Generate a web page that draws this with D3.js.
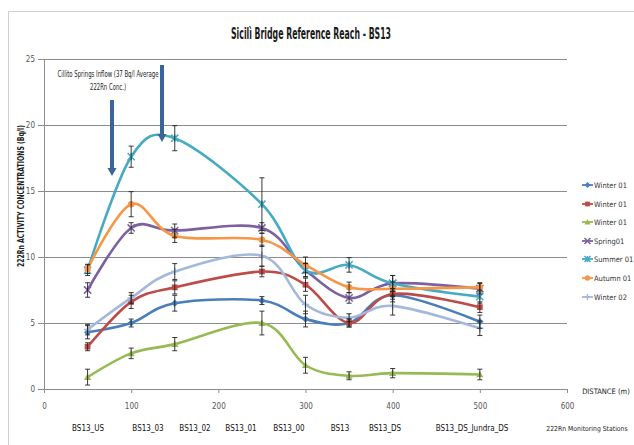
<!DOCTYPE html>
<html><head><meta charset="utf-8">
<script src="https://cdn.jsdelivr.net/npm/d3@7"></script>
<style>
html,body{margin:0;padding:0;background:#fff;}
svg{display:block;}
text{font-family:'Liberation Sans Narrow','DejaVu Sans Condensed','Arial Narrow',sans-serif;}
</style></head>
<body><svg id="chart" width="634" height="445"></svg>
<script>
const distances = [50, 100, 150, 250, 300, 350, 400, 500];
const stations = ["BS13_US", "BS13_03", "BS13_02", "BS13_01", "BS13_00", "BS13", "BS13_DS", "BS13_DS_Jundra_DS"];
const stationPos = [88, 148, 195, 241, 289, 340, 385, 472];
const xTicks = [0, 100, 200, 300, 400, 500, 600];
const yTicks = [0, 5, 10, 15, 20, 25];
const seriesNames = ["Winter 01", "Winter 01", "Winter 01", "Spring01", "Summer 01", "Autumn 01", "Winter 02"];
const seriesColors = ["#4a7ebb", "#be4b48", "#98b954", "#7d60a0", "#46aac5", "#f79646", "#a3b8da"];
const seriesMarkers = ["diamond", "square", "triangle", "x", "star", "circle", "plus"];
const winter01a = [4.3, 5.0, 6.5, 6.7, 5.3, 5.0, 7.1, 5.1];
const winter01b = [3.2, 6.6, 7.7, 8.9, 7.9, 5.0, 7.2, 6.2];
const winter01c = [0.9, 2.7, 3.4, 5.0, 1.8, 1.0, 1.2, 1.1];
const spring01 = [7.5, 12.2, 12.0, 12.2, 9.0, 6.9, 8.0, 7.6];
const summer01 = [9.0, 17.6, 19.0, 14.0, 9.0, 9.4, 8.0, 7.0];
const autumn01 = [9.1, 14.0, 11.6, 11.3, 9.4, 7.7, 7.6, 7.7];
const winter02 = [4.5, 6.9, 8.9, 10.1, 6.4, 5.4, 6.3, 4.6];
const errWinter01a = [0.5, 0.3, 0.6, 0.3, 0.6, 0.3, 0.5, 0.5];
const errWinter01b = [0.3, 0.5, 0.5, 0.4, 0.5, 0.3, 0.4, 0.4];
const errWinter01c = [0.6, 0.4, 0.5, 0.9, 0.6, 0.3, 0.35, 0.4];
const errSpring01 = [0.55, 0.4, 0.5, 0.4, 0.5, 0.4, 0.6, 0.4];
const errSummer01 = [0.4, 0.8, 0.95, 2.0, 0.5, 0.55, 0.6, 0.5];
const errAutumn01 = [0.35, 0.95, 0.5, 0.5, 0.6, 0.4, 0.5, 0.35];
const errWinter02 = [0.4, 0.4, 0.6, 0.8, 0.7, 0.3, 0.7, 0.55];

const values = [winter01a, winter01b, winter01c, spring01, summer01, autumn01, winter02];
const errors = [errWinter01a, errWinter01b, errWinter01c, errSpring01, errSummer01, errAutumn01, errWinter02];

const svg = d3.select("#chart");
const x = d3.scaleLinear().domain([0, 600]).range([44, 567]);
const y = d3.scaleLinear().domain([0, 25]).range([389, 59]);

// outer chart border
svg.append("rect").attr("x", 8.5).attr("y", 11.5).attr("width", 640).attr("height", 440)
  .attr("fill", "none").attr("stroke", "#cfcfcf").attr("stroke-width", 1);

// title
svg.append("text").attr("x", 311).attr("y", 39).attr("text-anchor", "middle")
  .attr("font-size", 15).attr("fill", "#1a1a1a").attr("font-weight", "bold")
  .attr("textLength", 160).attr("lengthAdjust", "spacingAndGlyphs")
  .text("Sicilì Bridge Reference Reach - BS13");

// gridlines
svg.append("g").selectAll("line").data(yTicks.filter(d => d > 0)).join("line")
  .attr("x1", x(0)).attr("x2", x(600)).attr("y1", d => Math.round(y(d)) + 0.5).attr("y2", d => Math.round(y(d)) + 0.5)
  .attr("stroke", "#8c8c8c").attr("stroke-width", 1);

// y axis
const yAxis = d3.axisLeft(y).tickValues(yTicks).tickSize(6).tickPadding(3);
const gy = svg.append("g").attr("transform", `translate(${x(0)},0)`).call(yAxis);
gy.select(".domain").attr("stroke", "#8c8c8c");
gy.selectAll(".tick line").attr("stroke", "#8c8c8c");
gy.selectAll(".tick text").attr("font-size", 8).attr("fill", "#555");

// x axis
const xAxis = d3.axisBottom(x).tickValues(xTicks).tickSize(4).tickPadding(10);
const gx = svg.append("g").attr("transform", `translate(0,${y(0)})`).call(xAxis);
gx.select(".domain").attr("stroke", "#8c8c8c");
gx.selectAll(".tick line").attr("stroke", "#8c8c8c");
gx.selectAll(".tick text").attr("font-size", 8).attr("fill", "#555");

// x axis title and station labels
svg.append("text").attr("x", 606).attr("y", 394).attr("text-anchor", "middle")
  .attr("font-size", 7.5).attr("fill", "#222")
  .text("DISTANCE (m)");
svg.append("g").selectAll("text").data(stations).join("text")
  .attr("x", (d, i) => stationPos[i]).attr("y", 431).attr("text-anchor", "middle")
  .attr("font-size", 8).attr("fill", "#111")
  .text(d => d);
svg.append("text").attr("x", 587).attr("y", 431).attr("text-anchor", "middle")
  .attr("font-size", 6.8).attr("fill", "#222")
  .text("222Rn Monitoring Stations");

// y axis title
svg.append("text").attr("transform", "translate(24,196) rotate(-90)").attr("text-anchor", "middle")
  .attr("font-size", 8).attr("fill", "#222").attr("font-weight", "bold")
  .attr("textLength", 142).attr("lengthAdjust", "spacingAndGlyphs")
  .text("222Rn ACTIVITY CONCENTRATIONS  (Bq/l)");

// series
const line = d3.line().x((d, i) => x(distances[i])).y(d => y(d)).curve(d3.curveCardinal.tension(0));

function marker(g, type, color, size) {
  const s = size;
  if (type === "diamond") g.append("path").attr("d", `M0,${-s}L${s},0L0,${s}L${-s},0Z`).attr("fill", color);
  else if (type === "square") g.append("rect").attr("x", -s * 0.8).attr("y", -s * 0.8).attr("width", s * 1.6).attr("height", s * 1.6).attr("fill", color);
  else if (type === "triangle") g.append("path").attr("d", `M0,${-s}L${s},${s * 0.8}L${-s},${s * 0.8}Z`).attr("fill", color);
  else if (type === "x") g.append("path").attr("d", `M${-s},${-s}L${s},${s}M${-s},${s}L${s},${-s}`).attr("stroke", color).attr("stroke-width", 1.5);
  else if (type === "star") g.append("path").attr("d", `M${-s},${-s}L${s},${s}M${-s},${s}L${s},${-s}M0,${-s}L0,${s}`).attr("stroke", color).attr("stroke-width", 1.5);
  else if (type === "circle") g.append("circle").attr("r", s * 0.9).attr("fill", color);
  else if (type === "plus") g.append("path").attr("d", `M${-s},0L${s},0M0,${-s}L0,${s}`).attr("stroke", color).attr("stroke-width", 1.5);
}

const plot = svg.append("g");
values.forEach((vals, si) => {
  const g = plot.append("g");
  g.append("path").attr("d", line(vals)).attr("fill", "none")
    .attr("stroke", seriesColors[si]).attr("stroke-width", 2.6).attr("stroke-linecap", "round");
  vals.forEach((v, i) => {
    const m = g.append("g").attr("transform", `translate(${x(distances[i])},${y(v)})`);
    marker(m, seriesMarkers[si], seriesColors[si], 3.6);
  });
});
// error bars
values.forEach((vals, si) => {
  const g = plot.append("g").attr("stroke", "#222").attr("stroke-width", 0.9);
  vals.forEach((v, i) => {
    const cx = x(distances[i]);
    const y1 = y(v + errors[si][i]), y2 = y(v - errors[si][i]);
    g.append("line").attr("x1", cx).attr("x2", cx).attr("y1", y1).attr("y2", y2);
    g.append("line").attr("x1", cx - 2.5).attr("x2", cx + 2.5).attr("y1", y1).attr("y2", y1);
    g.append("line").attr("x1", cx - 2.5).attr("x2", cx + 2.5).attr("y1", y2).attr("y2", y2);
  });
});

// legend
const legY = [185, 204, 222, 241, 259, 278, 297];
const leg = svg.append("g");
seriesNames.forEach((n, i) => {
  const g = leg.append("g").attr("transform", `translate(0,${legY[i]})`);
  g.append("line").attr("x1", 582).attr("x2", 593).attr("y1", 0).attr("y2", 0)
    .attr("stroke", seriesColors[i]).attr("stroke-width", 1.8);
  const m = g.append("g").attr("transform", "translate(587.5,0)");
  marker(m, seriesMarkers[i], seriesColors[i], 3);
  g.append("text").attr("x", 594).attr("y", 3).attr("font-size", 7.5).attr("fill", "#333").text(n);
});

// annotation
svg.append("text").attr("x", 108).attr("y", 77).attr("text-anchor", "middle")
  .attr("font-size", 8).attr("fill", "#222")
  .attr("textLength", 101).attr("lengthAdjust", "spacingAndGlyphs")
  .text("Cillito Springs Inflow (37 Bq/l Average");
svg.append("text").attr("x", 108).attr("y", 90).attr("text-anchor", "middle")
  .attr("font-size", 8).attr("fill", "#222")
  .attr("textLength", 36).attr("lengthAdjust", "spacingAndGlyphs")
  .text("222Rn Conc.)");

function arrow(xp, yTop, yTip) {
  svg.append("line").attr("x1", xp).attr("x2", xp).attr("y1", yTop).attr("y2", yTip - 7)
    .attr("stroke", "#3b659a").attr("stroke-width", 4);
  svg.append("path").attr("d", `M${xp - 4.5},${yTip - 8}L${xp + 4.5},${yTip - 8}L${xp},${yTip}Z`).attr("fill", "#3b659a");
}
arrow(112, 100, 176);
arrow(162, 65, 142);
</script></body></html>
